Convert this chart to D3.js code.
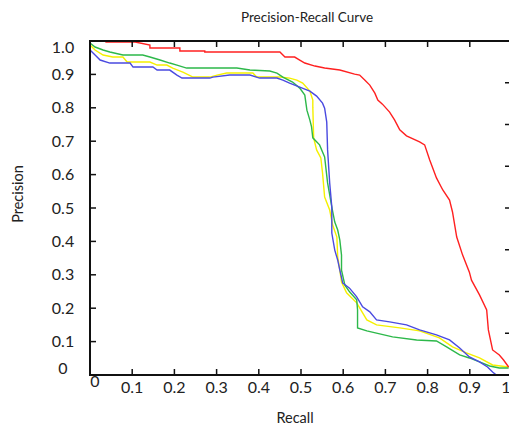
<!DOCTYPE html>
<html>
<head>
<meta charset="utf-8">
<script src="https://cdn.jsdelivr.net/npm/d3@7"></script>
<style>
  body { margin: 0; background: #fff; }
  text { font-family: Lato, "Open Sans", sans-serif; fill: #222; }
</style>
</head>
<body>
<svg id="chart" width="509" height="425"></svg>
<script>
// tick values
var xTicks = [0, 0.1, 0.2, 0.3, 0.4, 0.5, 0.6, 0.7, 0.8, 0.9, 1];
var xTickLabels = ["0", "0.1", "0.2", "0.3", "0.4", "0.5", "0.6", "0.7", "0.8", "0.9", "1"];
var yTicks = [0, 0.1, 0.2, 0.3, 0.4, 0.5, 0.6, 0.7, 0.8, 0.9, 1];
var yTickLabels = ["0", "0.1", "0.2", "0.3", "0.4", "0.5", "0.6", "0.7", "0.8", "0.9", "1.0"];

// red curve (recall, precision)
var redRecall = [0, 0.038, 0.038, 0.107, 0.142, 0.142, 0.213, 0.213, 0.272, 0.272, 0.450, 0.462, 0.485, 0.497, 0.509, 0.533, 0.556, 0.592, 0.627, 0.639, 0.651, 0.663, 0.675, 0.682, 0.693, 0.710, 0.722, 0.734, 0.750, 0.781, 0.793, 0.805, 0.821, 0.836, 0.852, 0.859, 0.869, 0.883, 0.899, 0.904, 0.923, 0.940, 0.944, 0.954, 0.970, 0.980, 0.992];
var redPrecision = [1.0, 1.0, 0.997, 0.997, 0.988, 0.979, 0.979, 0.970, 0.970, 0.967, 0.967, 0.952, 0.952, 0.943, 0.934, 0.925, 0.919, 0.913, 0.901, 0.898, 0.883, 0.868, 0.844, 0.823, 0.811, 0.787, 0.763, 0.734, 0.716, 0.698, 0.689, 0.644, 0.590, 0.554, 0.524, 0.488, 0.413, 0.359, 0.308, 0.284, 0.240, 0.195, 0.135, 0.075, 0.060, 0.045, 0.024];

// green curve
var greenRecall = [0, 0.012, 0.031, 0.047, 0.078, 0.125, 0.142, 0.166, 0.189, 0.206, 0.229, 0.348, 0.379, 0.426, 0.443, 0.457, 0.480, 0.497, 0.509, 0.514, 0.521, 0.525, 0.528, 0.544, 0.556, 0.563, 0.573, 0.580, 0.587, 0.592, 0.596, 0.596, 0.604, 0.615, 0.632, 0.634, 0.634, 0.656, 0.717, 0.774, 0.821, 0.845, 0.876, 0.899, 0.923, 0.947, 0.970, 0.992];
var greenPrecision = [0.994, 0.982, 0.973, 0.967, 0.958, 0.958, 0.952, 0.943, 0.934, 0.928, 0.919, 0.919, 0.913, 0.910, 0.904, 0.892, 0.877, 0.859, 0.838, 0.793, 0.763, 0.743, 0.710, 0.689, 0.653, 0.575, 0.503, 0.458, 0.434, 0.404, 0.359, 0.314, 0.269, 0.249, 0.225, 0.195, 0.141, 0.132, 0.114, 0.105, 0.102, 0.084, 0.060, 0.051, 0.039, 0.027, 0.021, 0.021];

// yellow curve
var yellowRecall = [0, 0.012, 0.031, 0.054, 0.078, 0.088, 0.142, 0.159, 0.182, 0.196, 0.220, 0.244, 0.284, 0.301, 0.324, 0.386, 0.395, 0.450, 0.473, 0.490, 0.504, 0.521, 0.528, 0.528, 0.530, 0.537, 0.547, 0.551, 0.556, 0.568, 0.575, 0.585, 0.587, 0.592, 0.596, 0.608, 0.632, 0.646, 0.656, 0.679, 0.734, 0.781, 0.828, 0.859, 0.892, 0.923, 0.954, 0.992];
var yellowPrecision = [0.988, 0.973, 0.958, 0.952, 0.952, 0.937, 0.937, 0.928, 0.928, 0.919, 0.907, 0.892, 0.892, 0.898, 0.904, 0.904, 0.892, 0.892, 0.889, 0.883, 0.874, 0.850, 0.823, 0.802, 0.710, 0.674, 0.650, 0.605, 0.533, 0.494, 0.449, 0.413, 0.353, 0.314, 0.278, 0.246, 0.216, 0.186, 0.165, 0.150, 0.141, 0.132, 0.111, 0.084, 0.066, 0.051, 0.030, 0.024];

// blue curve
var blueRecall = [0, 0.012, 0.024, 0.047, 0.095, 0.102, 0.149, 0.159, 0.189, 0.206, 0.218, 0.284, 0.291, 0.331, 0.379, 0.402, 0.443, 0.457, 0.473, 0.497, 0.521, 0.537, 0.551, 0.556, 0.561, 0.563, 0.568, 0.573, 0.573, 0.580, 0.587, 0.592, 0.599, 0.615, 0.632, 0.646, 0.663, 0.679, 0.710, 0.750, 0.781, 0.821, 0.852, 0.876, 0.899, 0.923, 0.942, 0.954, 0.963, 0.992];
var bluePrecision = [0.973, 0.958, 0.943, 0.934, 0.934, 0.922, 0.922, 0.913, 0.913, 0.898, 0.889, 0.889, 0.892, 0.898, 0.898, 0.889, 0.889, 0.883, 0.874, 0.862, 0.850, 0.835, 0.814, 0.799, 0.757, 0.674, 0.575, 0.503, 0.425, 0.374, 0.344, 0.314, 0.275, 0.260, 0.234, 0.204, 0.189, 0.165, 0.159, 0.150, 0.135, 0.120, 0.105, 0.081, 0.054, 0.039, 0.024, 0.009, 0, 0];

var series = [
  { color: "#f5f000", recall: yellowRecall, precision: yellowPrecision },
  { color: "#2db84a", recall: greenRecall, precision: greenPrecision },
  { color: "#4a4ae0", recall: blueRecall, precision: bluePrecision },
  { color: "#ff2020", recall: redRecall, precision: redPrecision }
];

var svg = d3.select("#chart");
var plotLeft = 90, plotTop = 41, plotBottom = 375;

var x = d3.scaleLinear().domain([0, 1]).range([plotLeft, 512]);
var y = d3.scaleLinear().domain([0, 1]).range([plotBottom, plotTop]);

// lines
var line = d3.line()
  .x(function(d) { return x(d[0]); })
  .y(function(d) { return y(d[1]); });

series.forEach(function(s) {
  var pts = s.recall.map(function(r, i) { return [r, s.precision[i]]; });
  svg.append("path")
    .attr("d", line(pts))
    .attr("fill", "none")
    .attr("stroke", s.color)
    .attr("stroke-width", 1.4);
});

// frame
svg.append("line").attr("x1", plotLeft).attr("x2", plotLeft).attr("y1", plotTop).attr("y2", plotBottom)
  .attr("stroke", "#111").attr("stroke-width", 2);
svg.append("line").attr("x1", plotLeft - 1).attr("x2", 509).attr("y1", plotBottom).attr("y2", plotBottom)
  .attr("stroke", "#111").attr("stroke-width", 2);
svg.append("line").attr("x1", plotLeft - 1).attr("x2", 509).attr("y1", plotTop).attr("y2", plotTop)
  .attr("stroke", "#111").attr("stroke-width", 2);

// x ticks (bottom and top, pointing inward)
xTicks.slice(1, 10).forEach(function(t) {
  svg.append("line").attr("x1", x(t)).attr("x2", x(t)).attr("y1", plotBottom).attr("y2", plotBottom - 6)
    .attr("stroke", "#111").attr("stroke-width", 1.5);
  svg.append("line").attr("x1", x(t)).attr("x2", x(t)).attr("y1", plotTop).attr("y2", plotTop + 6)
    .attr("stroke", "#111").attr("stroke-width", 1.5);
});

// y ticks on left
yTicks.slice(1, 10).forEach(function(t) {
  svg.append("line").attr("x1", plotLeft).attr("x2", plotLeft + 6).attr("y1", y(t)).attr("y2", y(t))
    .attr("stroke", "#111").attr("stroke-width", 1.5);
});

// right-hand ticks (8 divisions, cut off at the edge)
d3.range(1, 8).forEach(function(i) {
  var yy = y(i / 8);
  svg.append("line").attr("x1", 505).attr("x2", 509).attr("y1", yy).attr("y2", yy)
    .attr("stroke", "#111").attr("stroke-width", 1.5);
});

// y tick labels
yTicks.forEach(function(t, i) {
  var yy = Math.min(Math.max(y(t), 47), 368);
  svg.append("text")
    .attr("x", 63).attr("y", yy)
    .attr("dy", "0.35em")
    .attr("text-anchor", "middle")
    .style("font-size", "16px")
    .text(yTickLabels[i]);
});

// x tick labels
xTicks.forEach(function(t, i) {
  var xx = Math.min(Math.max(x(t), 95), 506);
  svg.append("text")
    .attr("x", xx).attr("y", i === 0 ? 381 : 387)
    .attr("dy", "0.35em")
    .attr("text-anchor", "middle")
    .style("font-size", "16px")
    .text(xTickLabels[i]);
});

// titles
svg.append("text").attr("x", 307).attr("y", 17).attr("dy", "0.35em")
  .attr("text-anchor", "middle").style("font-size", "13.5px")
  .text("Precision-Recall Curve");
svg.append("text").attr("x", 295).attr("y", 418).attr("dy", "0.35em")
  .attr("text-anchor", "middle").style("font-size", "14.5px")
  .text("Recall");
svg.append("text").attr("transform", "translate(18,194) rotate(-90)").attr("dy", "0.35em")
  .attr("text-anchor", "middle").style("font-size", "14.5px")
  .text("Precision");
</script>
</body>
</html>
